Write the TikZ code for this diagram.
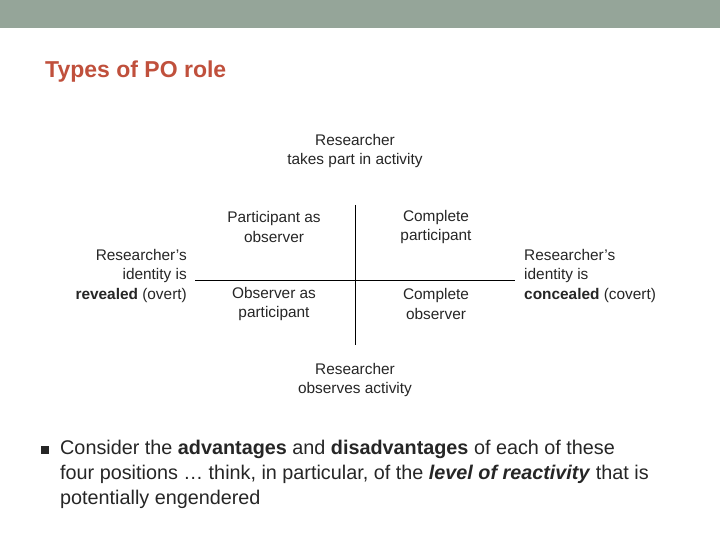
\documentclass[tikz,border=0pt]{standalone}
\usepackage{fontspec}
\setmainfont{Liberation Sans}
\begin{document}
\begin{tikzpicture}[x=1pt,y=-1pt,
  lbl/.style={font=\fontsize{15.4}{19.5}\selectfont,text=black!85,align=center,inner sep=0}]
\useasboundingbox (0,0) rectangle (720,540);
\fill[white] (0,0) rectangle (720,540);
\fill[fill={rgb,255:red,149;green,165;blue,153}] (0,0) rectangle (720,28);
\node[anchor=west,font=\fontsize{23}{27}\selectfont\bfseries,text={rgb,255:red,192;green,80;blue,60},inner sep=0] (title) at (45,72) {Types of PO role};
\coordinate (vt) at (355,205);
\coordinate (vb) at (355,345);
\coordinate (hl) at (195,280);
\coordinate (hr) at (515,280);
\draw[line width=0.9pt] (vt) -- (vb);
\draw[line width=0.9pt] (hl) -- (hr);
\node[lbl] (top) at (355,151) {Researcher\\takes part in activity};
\node[lbl] (bot) at (355,380) {Researcher\\observes activity};
\node[lbl] (q1) at (274,227) {Participant as\\observer};
\node[lbl] (q2) at (436,227) {Complete\\participant};
\node[lbl] (q3) at (274,304) {Observer as\\participant};
\node[lbl] (q4) at (436,304) {Complete\\observer};
\node[lbl,align=right,anchor=east] (left) at (187,276) {Researcher's\\identity is\\\textbf{revealed} (overt)};
\node[lbl,align=left,anchor=west] (right) at (524,276) {Researcher's\\identity is\\\textbf{concealed} (covert)};
\node[anchor=north west,align=left,inner sep=0,font=\fontsize{19.8}{25}\selectfont,text=black!85] (bul) at (60,440)
 {Consider the \textbf{advantages} and \textbf{disadvantages} of each of these\\four positions \dots{} think, in particular, of the \textbf{\textit{level of reactivity}} that is\\potentially engendered};
\fill[black!85] (41,446) rectangle (49,454);
\end{tikzpicture}
\end{document}
